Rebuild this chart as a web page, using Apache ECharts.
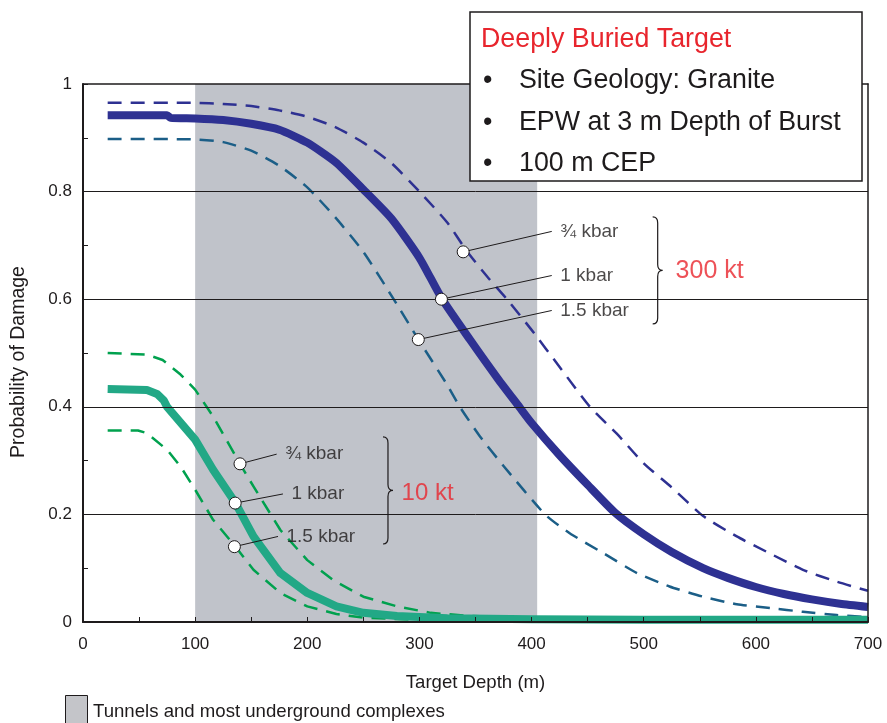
<!DOCTYPE html>
<html>
<head>
<meta charset="utf-8">
<script src="https://cdn.jsdelivr.net/npm/echarts@6/dist/echarts.min.js"></script>
<style>
  html, body { margin: 0; padding: 0; background: #fff; }
  #chart { width: 887px; height: 723px; }
</style>
</head>
<body>
<div id="chart"></div>
<script>
// Probability of damage vs. target depth, earth-penetrating weapon in granite.
// Each curve is [depth (m), probability].

// 300 kt yield
const kt300_075 = [[22,0.965],[100,0.965],[125,0.963],[150,0.959],[175,0.951],[200,0.939],[225,0.92],[250,0.891],[275,0.853],[300,0.80],[325,0.742],[342,0.69],[360,0.643],[378,0.60],[400,0.543],[425,0.474],[452,0.40],[476,0.35],[500,0.295],[525,0.25],[553,0.197],[583,0.159],[612,0.128],[642,0.097],[672,0.075],[700,0.058]];
const kt300_100 = [[22,0.942],[75,0.942],[78,0.937],[100,0.936],[125,0.933],[150,0.926],[175,0.915],[200,0.891],[225,0.855],[250,0.804],[275,0.75],[300,0.677],[320,0.601],[345,0.525],[370,0.452],[389,0.40],[400,0.37],[425,0.31],[450,0.255],[475,0.202],[500,0.163],[525,0.13],[553,0.10],[575,0.082],[600,0.065],[625,0.052],[650,0.042],[675,0.034],[700,0.028]];
const kt300_150 = [[22,0.898],[100,0.897],[125,0.892],[150,0.876],[175,0.848],[200,0.808],[225,0.752],[250,0.688],[277,0.60],[300,0.522],[325,0.44],[336,0.40],[354,0.345],[375,0.29],[412,0.20],[434,0.165],[464,0.128],[494,0.091],[523,0.066],[553,0.047],[583,0.033],[613,0.026],[642,0.019],[672,0.013],[700,0.009]];

// 10 kt yield
const kt10_075 = [[22,0.50],[57,0.497],[71,0.487],[87,0.46],[100,0.432],[116,0.382],[140,0.294],[152,0.252],[176,0.171],[200,0.115],[223,0.078],[250,0.047],[280,0.029],[310,0.017],[340,0.012],[400,0.006],[500,0.003],[700,0.002]];
const kt10_100 = [[22,0.433],[57,0.431],[66,0.424],[72,0.412],[75,0.40],[100,0.339],[116,0.283],[136,0.221],[152,0.159],[176,0.091],[200,0.054],[226,0.029],[250,0.017],[280,0.011],[325,0.007],[400,0.005],[500,0.004],[700,0.004]];
const kt10_150 = [[22,0.356],[49,0.356],[57,0.351],[75,0.32],[87,0.289],[100,0.246],[116,0.19],[136,0.14],[152,0.097],[176,0.054],[200,0.029],[226,0.015],[250,0.008],[300,0.004],[400,0.002],[700,0.001]];

// Depth band of tunnels and most underground complexes
const tunnelRange = [100, 405];

// Axis ticks
const depthTicks = [0, 100, 200, 300, 400, 500, 600, 700];
const probTicks = [0, 0.2, 0.4, 0.6, 0.8, 1];
const probGrid = [0.2, 0.4, 0.6, 0.8];

// Callout points on the curves and their labels
const calloutNames = ['¾ kbar', '1 kbar', '1.5 kbar'];
const callout300 = [[339, 0.688], [319.6, 0.600], [299, 0.525]];
const callout10 = [[140, 0.294], [135.7, 0.221], [135, 0.140]];
const groupNames = ['300 kt', '10 kt'];

// ---- layout (data-space anchors for the annotation text) ----
const labelEnds300 = [[418, 0.726], [418, 0.644], [418, 0.579]];
const labelEnds10 = [[172.7, 0.312], [178.3, 0.238], [173.9, 0.159]];
const groupLabelPos = [[528, 0.653], [283.6, 0.239]];
// brace: [x, top, bottom]
const braces = [[508, 0.753, 0.554], [267.5, 0.344, 0.145]];

const FONT = '"Liberation Sans", Arial, Helvetica, sans-serif';
const INK = '#1e1b1c';
const RED = '#e8252d';
const NAVY = '#2e3192';
const STEEL = '#1b5e87';
const TEAL = '#22a886';
const GREEN = '#00a14e';
const SHADE = '#c0c3ca';

const chart = echarts.init(document.getElementById('chart'), null, { renderer: 'canvas' });

function curve(name, data, color, width, dashed, smooth) {
  return {
    name, type: 'line', data, z: 3,
    showSymbol: false, symbol: 'none', smooth: smooth || false, silent: true,
    lineStyle: { color, width, type: dashed ? [14, 9] : 'solid', cap: 'butt', join: 'round' }
  };
}

const leaderData = [];
callout300.forEach((p, i) => leaderData.push({ coords: [p, labelEnds300[i]] }));
callout10.forEach((p, i) => leaderData.push({ coords: [p, labelEnds10[i]] }));

const labelData = [];
labelEnds300.forEach((p, i) => labelData.push({ value: p, name: calloutNames[i] }));
labelEnds10.forEach((p, i) => labelData.push({ value: p, name: calloutNames[i] }));

// Curly brace drawn from its data-space top/bottom
function renderBrace(params, api) {
  const top = api.coord([api.value(0), api.value(1)]);
  const bot = api.coord([api.value(0), api.value(2)]);
  const x0 = top[0], yTop = top[1], yBot = bot[1];
  const yMid = (yTop + yBot) / 2;
  const xs = x0 + 5, xt = x0 + 10, r = 6;
  const d = `M${x0} ${yTop} C${xs - 1} ${yTop} ${xs} ${yTop + 2} ${xs} ${yTop + r}` +
    ` L${xs} ${yMid - r} C${xs} ${yMid - 2} ${xs + 2} ${yMid} ${xt} ${yMid}` +
    ` C${xs + 2} ${yMid} ${xs} ${yMid + 2} ${xs} ${yMid + r}` +
    ` L${xs} ${yBot - r} C${xs} ${yBot - 2} ${xs - 1} ${yBot} ${x0} ${yBot}`;
  return {
    type: 'path',
    shape: { pathData: d },
    style: { fill: 'none', stroke: INK, lineWidth: 1.2 }
  };
}

const boxItems = ['Site Geology: Granite', 'EPW at 3 m Depth of Burst', '100 m CEP'];
const graphics = [];
graphics.push({
  type: 'rect', silent: true, z: 30,
  shape: { x: 470, y: 12, width: 392, height: 169 },
  style: { fill: '#fff', stroke: INK, lineWidth: 1.5 }
});
graphics.push({
  type: 'text', silent: true, z: 31, x: 481, y: 40,
  style: { text: 'Deeply Buried Target', fill: RED, font: `26.8px ${FONT}`, verticalAlign: 'middle', align: 'left' }
});
boxItems.forEach((t, i) => {
  const y = 81 + i * 41.5;
  graphics.push({
    type: 'text', silent: true, z: 31, x: 483, y,
    style: { text: '•', fill: INK, font: `26.8px ${FONT}`, verticalAlign: 'middle', align: 'left' }
  });
  graphics.push({
    type: 'text', silent: true, z: 31, x: 519, y,
    style: { text: t, fill: INK, font: `26.8px ${FONT}`, verticalAlign: 'middle', align: 'left' }
  });
});
// Shaded-band key below the axis
graphics.push({
  type: 'rect', silent: true, z: 30,
  shape: { x: 65.5, y: 695.5, width: 22, height: 32 },
  style: { fill: '#c4c5c9', stroke: INK, lineWidth: 1 }
});
graphics.push({
  type: 'text', silent: true, z: 31, x: 93, y: 712,
  style: { text: 'Tunnels and most underground complexes', fill: INK, font: `18.6px ${FONT}`, verticalAlign: 'middle', align: 'left' }
});

const option = {
  animation: false,
  backgroundColor: '#fff',
  textStyle: { fontFamily: FONT },
  grid: { left: 83, right: 19, top: 84, bottom: 101, containLabel: false },
  xAxis: [{
    type: 'value', min: depthTicks[0], max: depthTicks[depthTicks.length - 1], interval: 100,
    position: 'bottom', z: 10,
    name: 'Target Depth (m)', nameLocation: 'middle', nameGap: 51,
    nameTextStyle: { color: INK, fontSize: 18.6, fontFamily: FONT },
    axisLine: { show: true, onZero: false, lineStyle: { color: INK, width: 2 } },
    axisTick: { show: true, inside: true, length: 5, lineStyle: { color: INK, width: 1 } },
    minorTick: { show: true, splitNumber: 2, length: 5, lineStyle: { color: INK, width: 1 } },
    axisLabel: { color: INK, fontSize: 17, fontFamily: FONT, margin: 14 },
    splitLine: { show: false }
  }, {
    type: 'value', min: 0, max: 700, position: 'top', z: 10,
    axisLine: { show: true, onZero: false, lineStyle: { color: INK, width: 1.5 } },
    axisTick: { show: false }, axisLabel: { show: false }, splitLine: { show: false }
  }],
  yAxis: [{
    type: 'value', min: probTicks[0], max: probTicks[probTicks.length - 1], interval: 0.2,
    position: 'left', z: 10,
    name: 'Probability of Damage', nameLocation: 'middle', nameGap: 54,
    nameTextStyle: { color: INK, fontSize: 19.5, fontFamily: FONT, padding: [0, 18, 0, 0] },
    axisLine: { show: true, onZero: false, lineStyle: { color: INK, width: 2 } },
    axisTick: { show: true, inside: true, length: 5, lineStyle: { color: INK, width: 1 } },
    minorTick: { show: true, splitNumber: 2, length: 5, lineStyle: { color: INK, width: 1 } },
    axisLabel: { color: INK, fontSize: 17, fontFamily: FONT, margin: 11 },
    splitLine: { show: false }
  }, {
    type: 'value', min: 0, max: 1, position: 'right', z: 10,
    axisLine: { show: true, onZero: false, lineStyle: { color: INK, width: 1.5 } },
    axisTick: { show: false }, axisLabel: { show: false }, splitLine: { show: false }
  }],
  graphic: graphics,
  series: [
    {
      name: 'tunnels', type: 'line', data: [], z: 1, silent: true,
      markArea: {
        silent: true, itemStyle: { color: SHADE },
        data: [[{ xAxis: tunnelRange[0] }, { xAxis: tunnelRange[1] }]]
      }
    },
    {
      name: 'gridlines', type: 'line', data: [], z: 2, silent: true,
      markLine: {
        silent: true, symbol: ['none', 'none'], label: { show: false },
        lineStyle: { color: INK, width: 1, type: 'solid' },
        data: probGrid.map(v => ({ yAxis: v }))
      }
    },
    curve('300 kt ¾ kbar', kt300_075, NAVY, 2.5, true, 0.2),
    curve('300 kt 1.5 kbar', kt300_150, STEEL, 2.5, true, 0.2),
    curve('300 kt 1 kbar', kt300_100, NAVY, 8, false, 0.2),
    curve('10 kt ¾ kbar', kt10_075, GREEN, 2.5, true, false),
    curve('10 kt 1.5 kbar', kt10_150, GREEN, 2.5, true, false),
    curve('10 kt 1 kbar', kt10_100, TEAL, 8, false, false),
    {
      name: 'leaders', type: 'lines', coordinateSystem: 'cartesian2d', z: 4, silent: true,
      symbol: ['none', 'none'],
      lineStyle: { color: INK, width: 1, opacity: 1, curveness: 0 },
      data: leaderData
    },
    {
      name: 'callouts', type: 'scatter', z: 5, silent: true,
      symbol: 'circle', symbolSize: 12,
      itemStyle: { color: '#fff', borderColor: INK, borderWidth: 1, opacity: 1 },
      data: callout300.concat(callout10)
    },
    {
      name: 'braces', type: 'custom', z: 5, silent: true,
      renderItem: renderBrace,
      data: braces
    },
    {
      name: 'callout labels', type: 'scatter', z: 6, silent: true,
      symbol: 'circle', symbolSize: 1, itemStyle: { color: 'rgba(0,0,0,0)' },
      label: {
        show: true, position: 'right', distance: 8, formatter: '{b}',
        color: INK, fontSize: 19, fontFamily: FONT
      },
      data: labelData
    },
    {
      name: 'yield labels', type: 'scatter', z: 6, silent: true,
      symbol: 'circle', symbolSize: 1, itemStyle: { color: 'rgba(0,0,0,0)' },
      label: {
        show: true, position: 'right', distance: 0, formatter: '{b}',
        color: RED, fontSize: 25, fontFamily: FONT
      },
      data: [
        { value: groupLabelPos[0], name: groupNames[0] },
        { value: groupLabelPos[1], name: groupNames[1], label: { fontSize: 24 } }
      ]
    }
  ]
};

chart.setOption(option);
</script>
</body>
</html>
